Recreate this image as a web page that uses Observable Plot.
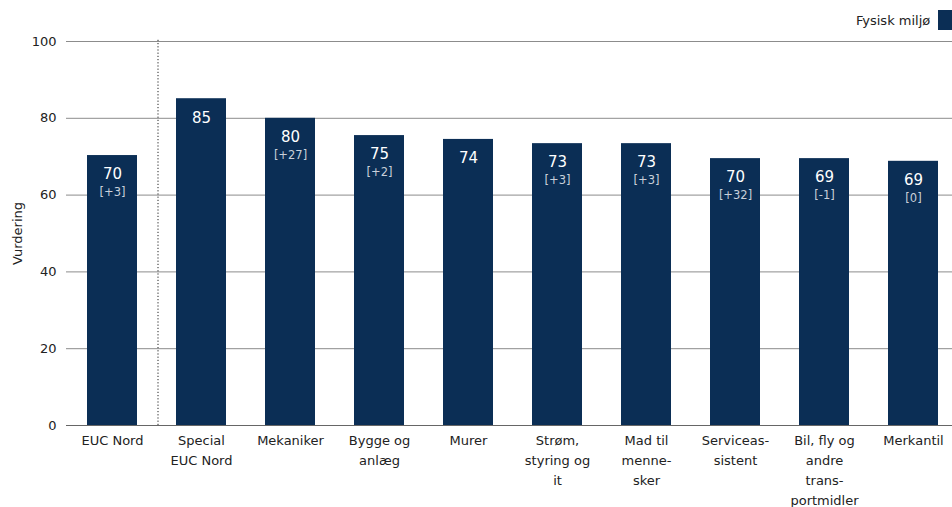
<!DOCTYPE html>
<html>
<head>
<meta charset="utf-8">
<script src="https://cdn.jsdelivr.net/npm/d3@7"></script>
<script src="https://cdn.jsdelivr.net/npm/@observablehq/plot@0.6"></script>
<style>
  html, body { margin: 0; padding: 0; background: #fff; }
  #wrap { position: relative; width: 952px; height: 507px; overflow: hidden; font-family: "DejaVu Sans", sans-serif; }
  #legend { position: absolute; top: 10px; left: 856px; display: flex; align-items: center; gap: 8px; font-size: 13px; color: #222; white-space: nowrap; }
  #legend .sw { width: 14px; height: 20px; background: #0b2e55; display: inline-block; }
</style>
</head>
<body>
<div id="wrap">
  <div id="legend"><span>Fysisk miljø</span><span class="sw"></span></div>
</div>
<script>
const categories = ["EUC Nord", "Special EUC Nord", "Mekaniker", "Bygge og anlæg", "Murer", "Strøm, styring og it", "Mad til mennesker", "Serviceassistent", "Bil, fly og andre transportmidler", "Merkantil"];
const tickLabels = ["EUC Nord", "Special\nEUC Nord", "Mekaniker", "Bygge og\nanlæg", "Murer", "Strøm,\nstyring og\nit", "Mad til\nmenne-\nsker", "Serviceas-\nsistent", "Bil, fly og\nandre\ntrans-\nportmidler", "Merkantil"];
const values = [70.3, 85.1, 80.0, 75.5, 74.5, 73.4, 73.4, 69.5, 69.5, 68.8];
const valueLabels = ["70", "85", "80", "75", "74", "73", "73", "70", "69", "69"];
const changeLabels = ["[+3]", "", "[+27]", "[+2]", "", "[+3]", "[+3]", "[+32]", "[-1]", "[0]"];
const yTicks = [0, 20, 40, 60, 80, 100];

const data = categories.map((c, i) => ({cat: c, value: values[i], label: valueLabels[i], change: changeLabels[i]}));
const tickMap = new Map(categories.map((c, i) => [c, tickLabels[i]]));

const chart = Plot.plot({
  width: 952,
  height: 507,
  marginLeft: 66,
  marginRight: 0,
  marginTop: 41,
  marginBottom: 82,
  style: {fontFamily: "DejaVu Sans, sans-serif", fontSize: "13px", color: "#222", background: "transparent"},
  x: {domain: categories, range: [66, 958], paddingInner: 0.44, paddingOuter: 0.225, label: null},
  y: {domain: [0, 100], label: null},
  marks: [
    Plot.gridY(yTicks.filter(d => d > 0), {stroke: "#8c8c8c", strokeOpacity: 1, strokeWidth: 1}),
    Plot.barY(data, {x: "cat", y: "value", fill: "#0b2e55"}),
    Plot.ruleY([0], {stroke: "#666", strokeWidth: 1.2}),
    Plot.ruleX([categories[0]], {y1: 0, y2: 100.8, dx: 45.5, stroke: "#222", strokeDasharray: "1.2,2", strokeWidth: 1}),
    Plot.text(data, {x: "cat", y: "value", text: "label", dy: 19, fill: "#ffffff", fontSize: 15}),
    Plot.text(data, {x: "cat", y: "value", text: "change", dy: 37, fill: "#c9d0da", fontSize: 11.5}),
    Plot.axisY(yTicks, {tickSize: 0, tickPadding: 10, fontSize: 13, label: "Vurdering", labelAnchor: "center", labelArrow: "none", labelOffset: 54}),
    Plot.axisX({tickSize: 0, tickPadding: 5, fontSize: 13, lineHeight: 1.55, tickFormat: d => tickMap.get(d)})
  ]
});
document.getElementById("wrap").prepend(chart);
</script>
</body>
</html>
